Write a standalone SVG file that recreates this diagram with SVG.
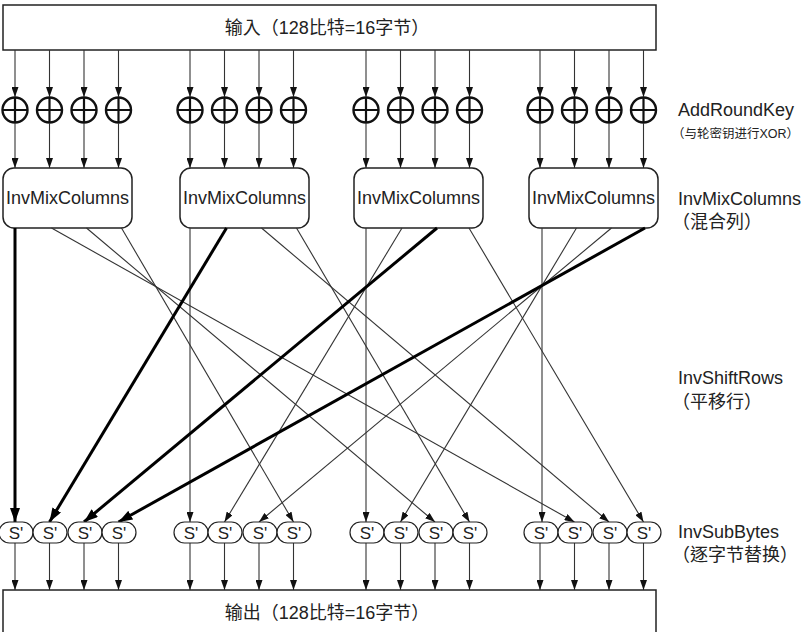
<svg xmlns="http://www.w3.org/2000/svg" width="803" height="632" viewBox="0 0 803 632">
<style>
text{font-family:"Liberation Sans","Noto Sans CJK TC",sans-serif;fill:#222}
.lbl{font-size:18px}
.box{fill:#fff;stroke:#222;stroke-width:1.5}
.xor circle{fill:none;stroke:#111;stroke-width:2.4}
.xor path{stroke:#111;stroke-width:2.2}
.ar{stroke:#333;stroke-width:1.1;fill:none;marker-end:url(#a)}
.tk{stroke:#000;stroke-width:3;fill:none;marker-end:url(#b)}
.sb{fill:#fff;stroke:#222;stroke-width:1.2}
.st{font-size:17px;text-anchor:middle}
</style>
<defs>
<marker id="a" viewBox="0 0 10 7" refX="10" refY="3.5" markerWidth="10" markerHeight="7" orient="auto" markerUnits="userSpaceOnUse"><path d="M0,0L10,3.5L0,7z" fill="#111"/></marker>
<marker id="b" viewBox="0 0 14 10" refX="14" refY="5" markerWidth="14" markerHeight="10" orient="auto" markerUnits="userSpaceOnUse"><path d="M0,0L14,5L0,10z" fill="#000"/></marker>
</defs>
<g id="input"><rect class="box" x="3" y="5" width="653" height="45" stroke-width="2"/><text class="lbl" x="327" y="34" text-anchor="middle">输入（128比特=16字节）</text></g>
<g id="output"><rect class="box" x="3" y="590" width="653" height="60"/><text class="lbl" x="327" y="619" text-anchor="middle">输出（128比特=16字节）</text></g>
<g id="xors" class="xor">
<g id="x0"><circle cx="15" cy="110" r="12.5"/><path d="M2.5,110H27.5M15,97.5V122.5"/></g>
<g id="x1"><circle cx="49.5" cy="110" r="12.5"/><path d="M37,110H62M49.5,97.5V122.5"/></g>
<g id="x2"><circle cx="84" cy="110" r="12.5"/><path d="M71.5,110H96.5M84,97.5V122.5"/></g>
<g id="x3"><circle cx="118.5" cy="110" r="12.5"/><path d="M106,110H131M118.5,97.5V122.5"/></g>
<g id="x4"><circle cx="190" cy="110" r="12.5"/><path d="M177.5,110H202.5M190,97.5V122.5"/></g>
<g id="x5"><circle cx="224.5" cy="110" r="12.5"/><path d="M212,110H237M224.5,97.5V122.5"/></g>
<g id="x6"><circle cx="259" cy="110" r="12.5"/><path d="M246.5,110H271.5M259,97.5V122.5"/></g>
<g id="x7"><circle cx="293.5" cy="110" r="12.5"/><path d="M281,110H306M293.5,97.5V122.5"/></g>
<g id="x8"><circle cx="366" cy="110" r="12.5"/><path d="M353.5,110H378.5M366,97.5V122.5"/></g>
<g id="x9"><circle cx="400.5" cy="110" r="12.5"/><path d="M388,110H413M400.5,97.5V122.5"/></g>
<g id="x10"><circle cx="435" cy="110" r="12.5"/><path d="M422.5,110H447.5M435,97.5V122.5"/></g>
<g id="x11"><circle cx="469.5" cy="110" r="12.5"/><path d="M457,110H482M469.5,97.5V122.5"/></g>
<g id="x12"><circle cx="540" cy="110" r="12.5"/><path d="M527.5,110H552.5M540,97.5V122.5"/></g>
<g id="x13"><circle cx="574.5" cy="110" r="12.5"/><path d="M562,110H587M574.5,97.5V122.5"/></g>
<g id="x14"><circle cx="609" cy="110" r="12.5"/><path d="M596.5,110H621.5M609,97.5V122.5"/></g>
<g id="x15"><circle cx="643.5" cy="110" r="12.5"/><path d="M631,110H656M643.5,97.5V122.5"/></g>
</g>
<g id="mix">
<g id="m0"><rect class="box" x="3" y="168" width="129" height="60" rx="11"/><text class="lbl" x="67.5" y="204" text-anchor="middle">InvMixColumns</text></g>
<g id="m1"><rect class="box" x="180" y="168" width="129" height="60" rx="11"/><text class="lbl" x="244.5" y="204" text-anchor="middle">InvMixColumns</text></g>
<g id="m2"><rect class="box" x="354" y="168" width="129" height="60" rx="11"/><text class="lbl" x="418.5" y="204" text-anchor="middle">InvMixColumns</text></g>
<g id="m3"><rect class="box" x="529" y="168" width="129" height="60" rx="11"/><text class="lbl" x="593.5" y="204" text-anchor="middle">InvMixColumns</text></g>
</g>
<g id="connectors">
<g id="in-arrows">
<line class="ar" x1="15" y1="50" x2="15" y2="97"/><line class="ar" x1="49.5" y1="50" x2="49.5" y2="97"/><line class="ar" x1="84" y1="50" x2="84" y2="97"/><line class="ar" x1="118.5" y1="50" x2="118.5" y2="97"/>
<line class="ar" x1="190" y1="50" x2="190" y2="97"/><line class="ar" x1="224.5" y1="50" x2="224.5" y2="97"/><line class="ar" x1="259" y1="50" x2="259" y2="97"/><line class="ar" x1="293.5" y1="50" x2="293.5" y2="97"/>
<line class="ar" x1="366" y1="50" x2="366" y2="97"/><line class="ar" x1="400.5" y1="50" x2="400.5" y2="97"/><line class="ar" x1="435" y1="50" x2="435" y2="97"/><line class="ar" x1="469.5" y1="50" x2="469.5" y2="97"/>
<line class="ar" x1="540" y1="50" x2="540" y2="97"/><line class="ar" x1="574.5" y1="50" x2="574.5" y2="97"/><line class="ar" x1="609" y1="50" x2="609" y2="97"/><line class="ar" x1="643.5" y1="50" x2="643.5" y2="97"/>
</g>
<g id="xor-arrows">
<line class="ar" x1="15" y1="123" x2="15" y2="168"/><line class="ar" x1="49.5" y1="123" x2="49.5" y2="168"/><line class="ar" x1="84" y1="123" x2="84" y2="168"/><line class="ar" x1="118.5" y1="123" x2="118.5" y2="168"/>
<line class="ar" x1="190" y1="123" x2="190" y2="168"/><line class="ar" x1="224.5" y1="123" x2="224.5" y2="168"/><line class="ar" x1="259" y1="123" x2="259" y2="168"/><line class="ar" x1="293.5" y1="123" x2="293.5" y2="168"/>
<line class="ar" x1="366" y1="123" x2="366" y2="168"/><line class="ar" x1="400.5" y1="123" x2="400.5" y2="168"/><line class="ar" x1="435" y1="123" x2="435" y2="168"/><line class="ar" x1="469.5" y1="123" x2="469.5" y2="168"/>
<line class="ar" x1="540" y1="123" x2="540" y2="168"/><line class="ar" x1="574.5" y1="123" x2="574.5" y2="168"/><line class="ar" x1="609" y1="123" x2="609" y2="168"/><line class="ar" x1="643.5" y1="123" x2="643.5" y2="168"/>
</g>
<g id="out-arrows">
<line class="ar" x1="15" y1="543" x2="15" y2="590"/><line class="ar" x1="49.5" y1="543" x2="49.5" y2="590"/><line class="ar" x1="84" y1="543" x2="84" y2="590"/><line class="ar" x1="118.5" y1="543" x2="118.5" y2="590"/>
<line class="ar" x1="190" y1="543" x2="190" y2="590"/><line class="ar" x1="224.5" y1="543" x2="224.5" y2="590"/><line class="ar" x1="259" y1="543" x2="259" y2="590"/><line class="ar" x1="293.5" y1="543" x2="293.5" y2="590"/>
<line class="ar" x1="366" y1="543" x2="366" y2="590"/><line class="ar" x1="400.5" y1="543" x2="400.5" y2="590"/><line class="ar" x1="435" y1="543" x2="435" y2="590"/><line class="ar" x1="469.5" y1="543" x2="469.5" y2="590"/>
<line class="ar" x1="540" y1="543" x2="540" y2="590"/><line class="ar" x1="574.5" y1="543" x2="574.5" y2="590"/><line class="ar" x1="609" y1="543" x2="609" y2="590"/><line class="ar" x1="643.5" y1="543" x2="643.5" y2="590"/>
</g>
<g id="shift">
<line class="ar" x1="51.5" y1="228" x2="574.5" y2="522"/>
<line class="ar" x1="86.5" y1="228" x2="435" y2="522"/>
<line class="ar" x1="121.5" y1="228" x2="293.5" y2="522"/>
<line class="ar" x1="190" y1="228" x2="190" y2="522"/>
<line class="ar" x1="261.5" y1="228" x2="609" y2="522"/>
<line class="ar" x1="296.5" y1="228" x2="469.5" y2="522"/>
<line class="ar" x1="366" y1="228" x2="366" y2="522"/>
<line class="ar" x1="402" y1="228" x2="224.5" y2="522"/>
<line class="ar" x1="469" y1="228" x2="643.5" y2="522"/>
<line class="ar" x1="542" y1="228" x2="542" y2="522"/>
<line class="ar" x1="576.5" y1="228" x2="400.5" y2="522"/>
<line class="ar" x1="611.5" y1="228" x2="259" y2="522"/>
<line class="tk" x1="15" y1="228" x2="15" y2="522"/>
<line class="tk" x1="226.5" y1="228" x2="49.5" y2="522"/>
<line class="tk" x1="437" y1="228" x2="84" y2="522"/>
<line class="tk" x1="645" y1="228" x2="118.5" y2="522"/>
</g>
</g>
<g id="sboxes">
<g id="s0"><rect class="sb" x="-1" y="522" width="34" height="21" rx="10.5"/><text class="st" x="16" y="538.5">S'</text></g>
<g id="s1"><rect class="sb" x="33" y="522" width="34" height="21" rx="10.5"/><text class="st" x="50" y="538.5">S'</text></g>
<g id="s2"><rect class="sb" x="68" y="522" width="34" height="21" rx="10.5"/><text class="st" x="85" y="538.5">S'</text></g>
<g id="s3"><rect class="sb" x="102" y="522" width="34" height="21" rx="10.5"/><text class="st" x="119" y="538.5">S'</text></g>
<g id="s4"><rect class="sb" x="174" y="522" width="34" height="21" rx="10.5"/><text class="st" x="191" y="538.5">S'</text></g>
<g id="s5"><rect class="sb" x="208" y="522" width="34" height="21" rx="10.5"/><text class="st" x="225" y="538.5">S'</text></g>
<g id="s6"><rect class="sb" x="243" y="522" width="34" height="21" rx="10.5"/><text class="st" x="260" y="538.5">S'</text></g>
<g id="s7"><rect class="sb" x="277" y="522" width="34" height="21" rx="10.5"/><text class="st" x="294" y="538.5">S'</text></g>
<g id="s8"><rect class="sb" x="350" y="522" width="34" height="21" rx="10.5"/><text class="st" x="367" y="538.5">S'</text></g>
<g id="s9"><rect class="sb" x="384" y="522" width="34" height="21" rx="10.5"/><text class="st" x="401" y="538.5">S'</text></g>
<g id="s10"><rect class="sb" x="419" y="522" width="34" height="21" rx="10.5"/><text class="st" x="436" y="538.5">S'</text></g>
<g id="s11"><rect class="sb" x="453" y="522" width="34" height="21" rx="10.5"/><text class="st" x="470" y="538.5">S'</text></g>
<g id="s12"><rect class="sb" x="524" y="522" width="34" height="21" rx="10.5"/><text class="st" x="541" y="538.5">S'</text></g>
<g id="s13"><rect class="sb" x="558" y="522" width="34" height="21" rx="10.5"/><text class="st" x="575" y="538.5">S'</text></g>
<g id="s14"><rect class="sb" x="593" y="522" width="34" height="21" rx="10.5"/><text class="st" x="610" y="538.5">S'</text></g>
<g id="s15"><rect class="sb" x="627" y="522" width="34" height="21" rx="10.5"/><text class="st" x="644" y="538.5">S'</text></g>
</g>
<g id="labels">
<text class="lbl" x="678" y="116">AddRoundKey</text>
<text x="672" y="138" font-size="12.5">（与轮密钥进行XOR）</text>
<text class="lbl" x="678" y="205">InvMixColumns</text>
<text class="lbl" x="672" y="228">（混合列）</text>
<text class="lbl" x="678" y="384">InvShiftRows</text>
<text class="lbl" x="672" y="408">（平移行）</text>
<text class="lbl" x="678" y="538">InvSubBytes</text>
<text class="lbl" x="672" y="561">（逐字节替换）</text>
</g>
</svg>
